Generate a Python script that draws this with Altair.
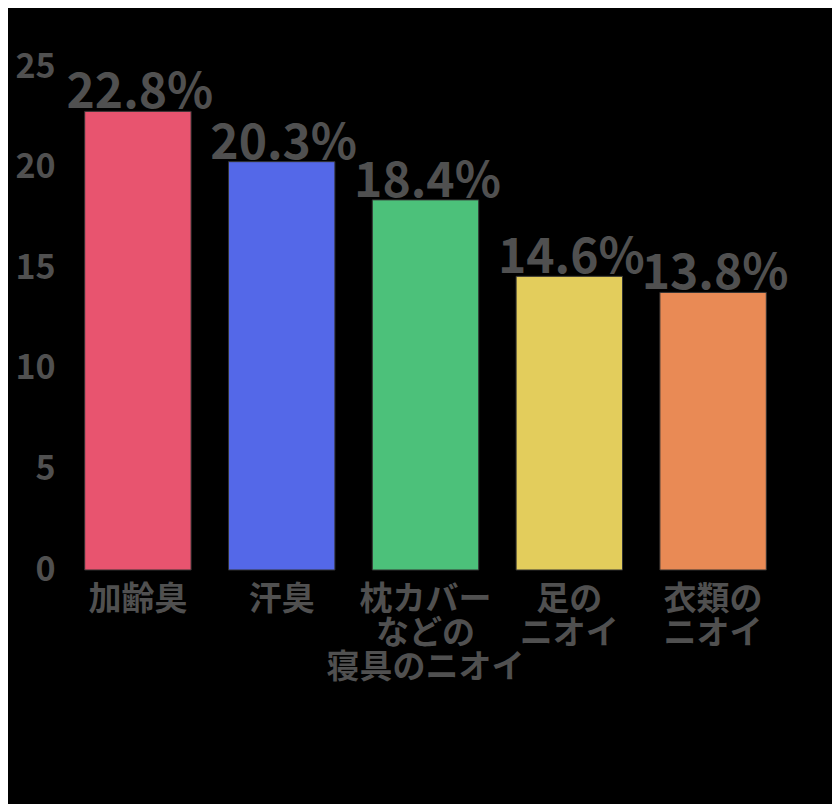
import altair as alt
import pandas as pd

categories = ["加齢臭", "汗臭", "枕カバー\nなどの\n寝具のニオイ", "足の\nニオイ", "衣類の\nニオイ"]
values = [22.8, 20.3, 18.4, 14.6, 13.8]
colors = ["#E8546F", "#5468E8", "#4CC17A", "#E3CD5C", "#E98A55"]
value_labels = ["22.8%", "20.3%", "18.4%", "14.6%", "13.8%"]

df = pd.DataFrame({"cat": categories, "val": values, "lab": value_labels, "color": colors})

FONT = "Noto Sans CJK JP"
GRAY = "#505050"

x = alt.X("cat:N", sort=categories, title=None,
          scale=alt.Scale(paddingInner=0.26, paddingOuter=0.13),
          axis=alt.Axis(labelAngle=0, labelFontSize=33, labelColor=GRAY, labelFont=FONT,
                        labelFontWeight="bold", labelLineHeight=34, labelPadding=13,
                        labelLimit=0, domain=False, ticks=False,
                        labelExpr="split(datum.label, '\\n')"))
y = alt.Y("val:Q", title=None, scale=alt.Scale(domain=[0, 25]),
          axis=alt.Axis(values=[0, 5, 10, 15, 20, 25], labelFontSize=34, labelColor=GRAY,
                        labelFont=FONT, labelFontWeight="bold", labelPadding=11,
                        domain=False, ticks=False, grid=False))

base = alt.Chart(df)
bars = base.mark_bar(stroke="#333333", strokeWidth=1).encode(
    x=x, y=y, color=alt.Color("color:N", scale=None))
text = base.mark_text(baseline="alphabetic", dy=-3, dx=2, fontSize=48, font=FONT,
                      fontWeight="bold", color=GRAY).encode(
    x=alt.X("cat:N", sort=categories), y="val:Q", text="lab:N")

chart = (bars + text).properties(
    width=719, height=523, autosize="none", background="black",
    padding={"left": 58, "top": 39, "right": 47, "bottom": 234}
).configure_view(stroke=None)

chart.save("out.html", embed_options={"renderer": "svg", "actions": False})
